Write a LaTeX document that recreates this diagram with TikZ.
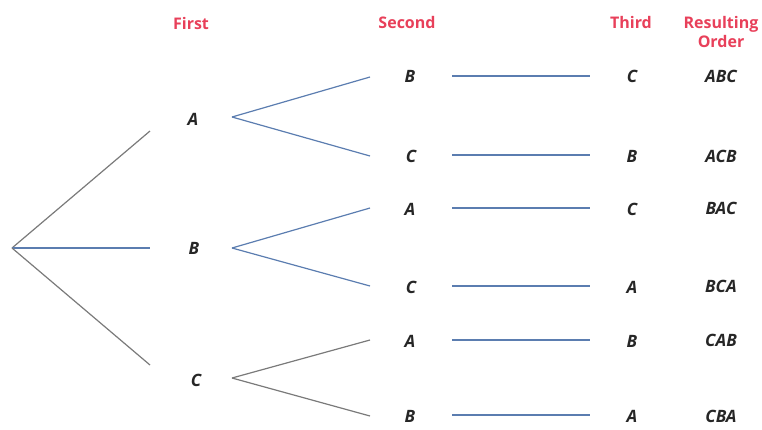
\documentclass[tikz,border=0pt]{standalone}
\usepackage{fontspec}
\setmainfont{Open Sans}
\begin{document}
\begin{tikzpicture}[x=1pt,y=-1pt,
  lbl/.style={font=\fontsize{17}{17}\selectfont\bfseries\itshape, text=black!85, inner sep=0pt},
  hdr/.style={font=\fontsize{16}{19}\selectfont\bfseries, text=hred, inner sep=0pt, align=center},
  bl/.style={draw=lblue, line width=1.2pt},
  gr/.style={draw=lgray, line width=1.2pt}]
\definecolor{hred}{HTML}{E8405A}
\definecolor{lblue}{HTML}{5B7DB0}
\definecolor{lgray}{HTML}{7A7A7A}
\useasboundingbox (0,0) rectangle (762,429);
% headers
\node[hdr] (h1) at (191,23) {First};
\node[hdr] (h2) at (407,22) {Second};
\node[hdr] (h3) at (631,22) {Third};
\node[hdr] (h4) at (721,32) {Resulting\\Order};
% root
\coordinate (r) at (12,248);
% first level
\node[lbl] (A) at (193,119) {A};
\node[lbl] (B) at (194,248) {B};
\node[lbl] (C) at (196,380) {C};
\coordinate (ea) at (150,131);
\coordinate (eb) at (150,248);
\coordinate (ec) at (150,365);
\draw[gr] (r) -- (ea);
\draw[bl] (r) -- (eb);
\draw[gr] (r) -- (ec);
% apexes
\coordinate (pa) at (232,117);
\coordinate (pb) at (232,248);
\coordinate (pc) at (232,378);
% second level
\node[lbl] (s1) at (410,76) {B};
\node[lbl] (s2) at (411,156) {C};
\node[lbl] (s3) at (410,209) {A};
\node[lbl] (s4) at (411,287) {C};
\node[lbl] (s5) at (410,341) {A};
\node[lbl] (s6) at (410,416) {B};
\coordinate (q1) at (370,77);
\coordinate (q2) at (370,156);
\coordinate (q3) at (370,208);
\coordinate (q4) at (370,286);
\coordinate (q5) at (370,340);
\coordinate (q6) at (370,416);
\draw[bl] (pa) -- (q1);
\draw[bl] (pa) -- (q2);
\draw[bl] (pb) -- (q3);
\draw[bl] (pb) -- (q4);
\draw[gr] (pc) -- (q5);
\draw[gr] (pc) -- (q6);
% third level
\node[lbl] (t1) at (632,76) {C};
\node[lbl] (t2) at (632,156) {B};
\node[lbl] (t3) at (632,209) {C};
\node[lbl] (t4) at (632,287) {A};
\node[lbl] (t5) at (632,341) {B};
\node[lbl] (t6) at (632,416) {A};
\foreach \i/\y in {1/76,2/155,3/208,4/286,5/340,6/415}{
  \coordinate (u\i) at (452,\y);
  \coordinate (v\i) at (590,\y);
  \draw[bl] (u\i) -- (v\i);
}
% results
\node[lbl] (o1) at (721,76) {ABC};
\node[lbl] (o2) at (721,156) {ACB};
\node[lbl] (o3) at (721,208) {BAC};
\node[lbl] (o4) at (721,286) {BCA};
\node[lbl] (o5) at (721,340) {CAB};
\node[lbl] (o6) at (721,416) {CBA};
\end{tikzpicture}
\end{document}
